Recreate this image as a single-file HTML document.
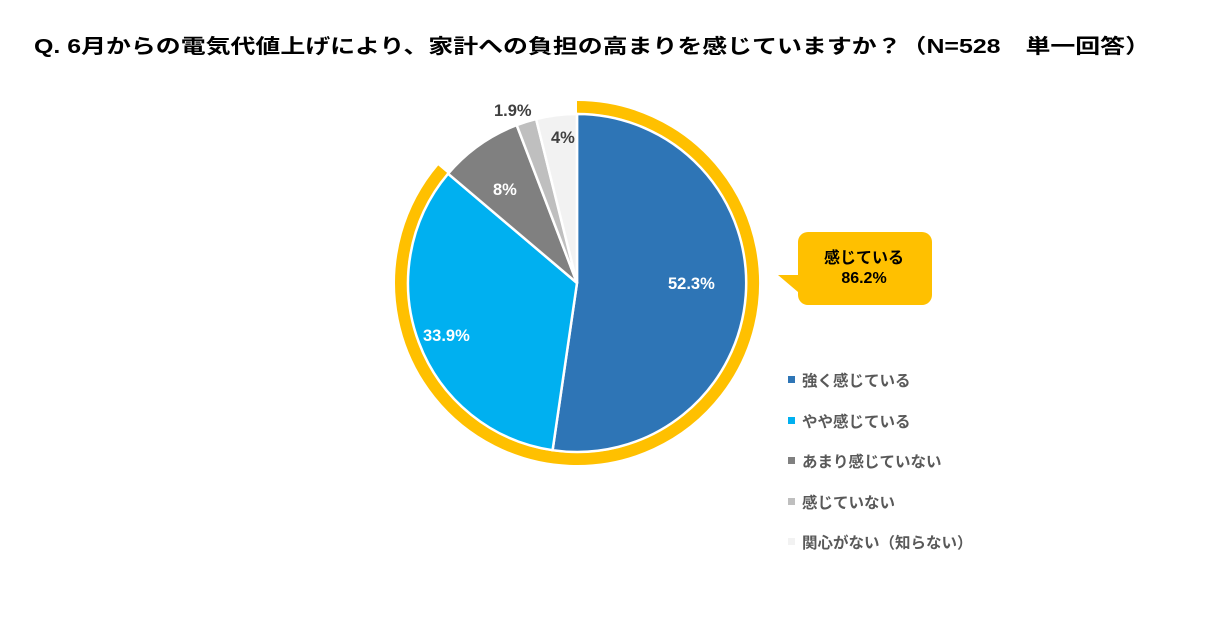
<!DOCTYPE html>
<html><head><meta charset="utf-8"><style>
body{margin:0;background:#fff;width:1222px;height:625px;overflow:hidden;font-family:"Liberation Sans","Noto Sans CJK JP",sans-serif}
</style></head><body>
<svg width="1222" height="625" xmlns="http://www.w3.org/2000/svg" style="position:absolute;left:0;top:0">
<text x="34" y="53" font-size="20" font-weight="bold" fill="#000" textLength="1116" lengthAdjust="spacingAndGlyphs" font-family="Liberation Sans, Noto Sans CJK JP, sans-serif">Q.  6月からの電気代値上げにより、家計への負担の高まりを感じていますか？（N=528　単一回答）</text>
<path d="M577,107 A176,176 0 1 1 442.8,169.2" fill="none" stroke="#FFC000" stroke-width="12"/>
<g stroke="#fff" stroke-width="2.5">
<path d="M577,283 L577,114 A169,169 0 1 1 552.6,450.2 Z" fill="#2E75B6"/>
<path d="M577,283 L552.6,450.2 A169,169 0 0 1 448.1,173.7 Z" fill="#00B0F0"/>
<path d="M577,283 L448.1,173.7 A169,169 0 0 1 516.7,125.1 Z" fill="#808080"/>
<path d="M577,283 L516.7,125.1 A169,169 0 0 1 536.1,119.0 Z" fill="#BFBFBF"/>
<path d="M577,283 L536.1,119.0 A169,169 0 0 1 577,114 Z" fill="#F2F2F2"/>
</g>
<g font-size="16.5" font-weight="bold" font-family="Liberation Sans, Noto Sans CJK JP, sans-serif">
<text x="668" y="289" fill="#fff">52.3%</text>
<text x="423" y="341" fill="#fff">33.9%</text>
<text x="493" y="195" fill="#fff">8%</text>
<text x="494" y="116" fill="#404040">1.9%</text>
<text x="551" y="143" fill="#404040">4%</text>
</g>
<path d="M808,232 H922 A10,10 0 0 1 932,242 V295 A10,10 0 0 1 922,305 H808 A10,10 0 0 1 798,295 V292 L778,275 H798 V242 A10,10 0 0 1 808,232 Z" fill="#FFC000"/>
<g font-size="16" font-weight="bold" fill="#000" text-anchor="middle" font-family="Liberation Sans, Noto Sans CJK JP, sans-serif">
<text x="864" y="263">感じている</text>
<text x="864" y="283">86.2%</text>
</g>
<g font-size="15.5" font-weight="bold" fill="#595959" font-family="Liberation Sans, Noto Sans CJK JP, sans-serif">
<rect x="788" y="376" width="7" height="7" fill="#2E75B6"/><text x="802" y="386">強く感じている</text>
<rect x="788" y="417" width="7" height="7" fill="#00B0F0"/><text x="802" y="427">やや感じている</text>
<rect x="788" y="457" width="7" height="7" fill="#808080"/><text x="802" y="467">あまり感じていない</text>
<rect x="788" y="498" width="7" height="7" fill="#BFBFBF"/><text x="802" y="508">感じていない</text>
<rect x="788" y="538" width="7" height="7" fill="#F2F2F2"/><text x="802" y="548">関心がない（知らない）</text>
</g>
</svg>
</body></html>
